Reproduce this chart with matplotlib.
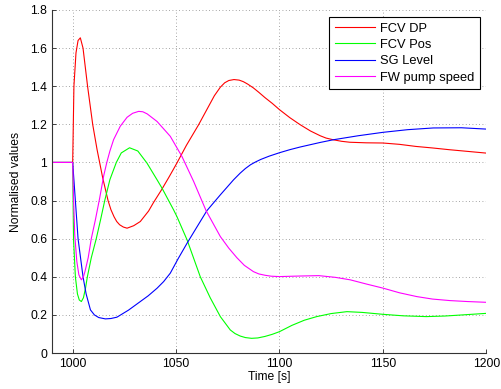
import matplotlib
matplotlib.use("Agg")
import matplotlib.pyplot as plt
from matplotlib.ticker import FormatStrFormatter

plt.rcParams['font.family'] = ['Liberation Sans', 'DejaVu Sans']

series_names = ["FCV DP", "FCV Pos", "SG Level", "FW pump speed"]
series_colors = ["#ff0000", "#00ff00", "#0000ff", "#ff00ff"]

t_dp = [990, 1000, 1000.3, 1000.6, 1001.6, 1002.6, 1003.7, 1005, 1007.2, 1009.7, 1011.8,
        1014.5, 1017.1, 1018.5, 1020, 1021.3, 1022.7, 1024.5, 1026.3, 1029.5, 1032.7,
        1036.7, 1039.1, 1043, 1046.4, 1048.5, 1050.4, 1055, 1060.9, 1066, 1068.5, 1071.4,
        1073.5, 1075.5, 1078, 1080.5, 1082.5, 1084.5, 1087.4, 1090, 1093, 1096.5, 1100,
        1105, 1110, 1115, 1119.7, 1122.5, 1126, 1130, 1134, 1142, 1150, 1158, 1166, 1174,
        1182, 1191, 1200]
v_dp = [1, 1, 1.2, 1.40, 1.575, 1.64, 1.654, 1.60, 1.40, 1.198, 1.067,
        0.92, 0.80, 0.752, 0.715, 0.690, 0.673, 0.661, 0.655, 0.668, 0.69,
        0.745, 0.79, 0.857, 0.92, 0.96, 0.997, 1.09, 1.198, 1.30, 1.35, 1.395,
        1.418, 1.43, 1.435, 1.432, 1.424, 1.412, 1.391, 1.368, 1.34, 1.31, 1.277,
        1.235, 1.198, 1.165, 1.14, 1.128, 1.119, 1.111, 1.106, 1.103, 1.102, 1.095, 1.084, 1.076,
        1.067, 1.058, 1.049]

t_pos = [990, 1000, 1000.2, 1000.4, 1001.3, 1002.3, 1003.2, 1004.2, 1005.2, 1006.2, 1007.1,
         1009, 1011.4, 1013.5, 1015.5, 1018, 1021.1, 1023.5, 1027.5, 1031.5, 1035.9,
         1040.8, 1043.2, 1048.8, 1050.4, 1055.3, 1061.7, 1066.5, 1071.4, 1076.2, 1078.5,
         1081, 1083.5, 1086.5, 1089.5, 1093, 1096.5, 1100, 1106, 1112, 1118, 1125,
         1132.6, 1140, 1150, 1160, 1171, 1180, 1190, 1200]
v_pos = [1, 1, 0.8, 0.6, 0.40, 0.31, 0.278, 0.27, 0.29, 0.34, 0.40,
         0.50, 0.60, 0.70, 0.80, 0.91, 1.0, 1.05, 1.077, 1.06, 0.997,
         0.909, 0.865, 0.751, 0.716, 0.594, 0.40, 0.29, 0.191, 0.121, 0.102,
         0.089, 0.081, 0.077, 0.079, 0.087, 0.098, 0.112, 0.145, 0.172, 0.191, 0.207,
         0.217, 0.213, 0.203, 0.195, 0.191, 0.194, 0.201, 0.208]

t_lvl = [990, 1000, 1001.3, 1002.6, 1005, 1006.5, 1008.6, 1010.5, 1012.6, 1015.8, 1018.5,
         1021.4, 1027, 1032.7, 1036.5, 1040.8, 1044, 1047.2, 1051, 1055.3, 1060, 1064.9,
         1071.4, 1077.8, 1081, 1083.5, 1086, 1088.5, 1091, 1095, 1100, 1105, 1110,
         1119.7, 1126, 1138, 1150, 1162, 1174.4, 1188, 1200]
v_lvl = [1, 1, 0.80, 0.60, 0.40, 0.31, 0.226, 0.20, 0.186, 0.179, 0.181,
         0.188, 0.225, 0.27, 0.30, 0.34, 0.375, 0.419, 0.495, 0.576, 0.66, 0.747,
         0.83, 0.909, 0.944, 0.968, 0.988, 1.003, 1.016, 1.033, 1.051, 1.067, 1.081,
         1.105, 1.119, 1.14, 1.158, 1.172, 1.181, 1.182, 1.175]

t_fw = [990, 1000, 1000.3, 1001, 1002, 1003, 1004.2, 1005.2, 1006, 1007.5, 1009, 1011,
        1013, 1015, 1016.5, 1018, 1019.8, 1023, 1026.3, 1029, 1031.9, 1033.9, 1036,
        1040.8, 1047.2, 1052.8, 1058.5, 1064.5, 1071.4, 1075.5, 1079.4, 1083, 1087.4,
        1090, 1093, 1096, 1100, 1110, 1119, 1127, 1134.2, 1142, 1150.2, 1158, 1166.4,
        1174, 1182.5, 1191, 1200]
v_fw = [1, 1, 0.85, 0.62, 0.48, 0.41, 0.384, 0.40, 0.43, 0.50, 0.60, 0.70,
        0.81, 0.93, 1.0, 1.06, 1.12, 1.19, 1.237, 1.258, 1.268, 1.266, 1.255,
        1.215, 1.137, 1.032, 0.90, 0.747, 0.611, 0.55, 0.50, 0.46, 0.427,
        0.415, 0.408, 0.403, 0.401, 0.404, 0.406, 0.397, 0.384, 0.362, 0.34, 0.316, 0.296,
        0.283, 0.275, 0.27, 0.266]

x_ticks = [1000, 1050, 1100, 1150, 1200]
y_ticks = [0, 0.2, 0.4, 0.6, 0.8, 1.0, 1.2, 1.4, 1.6, 1.8]

fig = plt.figure(figsize=(5.01, 3.89), dpi=100)
ax = fig.add_axes([52 / 501, 36 / 389, (486.3 - 52) / 501, (353 - 10) / 389])

for (t, v), name, col in zip([(t_dp, v_dp), (t_pos, v_pos), (t_lvl, v_lvl), (t_fw, v_fw)],
                             series_names, series_colors):
    ax.plot(t, v, color=col, lw=0.8, label=name)

ax.set_xlim(990, 1200)
ax.set_ylim(0, 1.8)
ax.set_xticks(x_ticks)
ax.set_yticks(y_ticks)
ax.yaxis.set_major_formatter(FormatStrFormatter('%g'))
ax.grid(True, linestyle=(0, (1, 3)), color='#888888', lw=0.6)
ax.spines['top'].set_visible(False)
ax.spines['right'].set_visible(False)
for s in ['left', 'bottom']:
    ax.spines[s].set_color('#333333')
    ax.spines[s].set_linewidth(0.8)
ax.tick_params(direction='in', length=3, width=0.6, labelsize=8.7, colors='#222222',
               labelcolor='black')
ax.set_xlabel("Time [s]", fontsize=8.7, labelpad=1)
ax.set_ylabel("Normalised values", fontsize=8.7, labelpad=6)

leg = ax.legend(loc='upper right', bbox_to_anchor=(0.986, 0.98), fontsize=9.3,
                fancybox=False, framealpha=1, edgecolor='black', handlelength=3.1,
                borderpad=0.45, labelspacing=0.33, handletextpad=0.4, borderaxespad=0)
leg.get_frame().set_linewidth(0.8)

fig.savefig("out.png", dpi=100)
